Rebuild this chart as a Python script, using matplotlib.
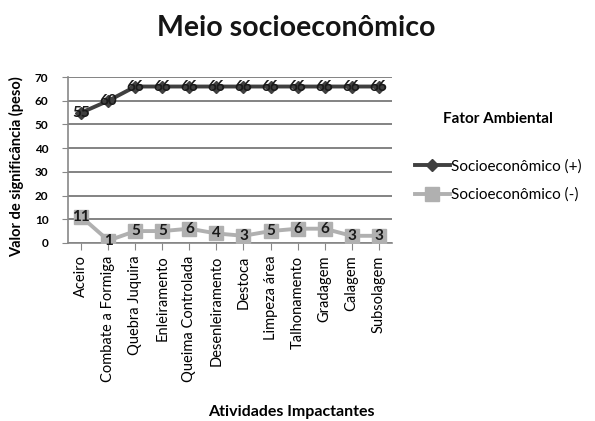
import matplotlib
matplotlib.use("Agg")
import matplotlib.pyplot as plt

categories = ["Aceiro", "Combate a Formiga", "Quebra Juquira", "Enleiramento",
              "Queima Controlada", "Desenleiramento", "Destoca", "Limpeza área",
              "Talhonamento", "Gradagem", "Calagem", "Subsolagem"]
positivo = [55, 60, 66, 66, 66, 66, 66, 66, 66, 66, 66, 66]
negativo = [11, 1, 5, 5, 6, 4, 3, 5, 6, 6, 3, 3]
y_ticks = [0, 10, 20, 30, 40, 50, 60, 70]

plt.rcParams['font.family'] = ['Lato', 'DejaVu Sans']

fig = plt.figure(figsize=(5.95, 4.21), dpi=100)
ax = fig.add_axes([0.114, 0.423, 0.545, 0.394])

x = list(range(len(categories)))
dark = "#404040"
light = "#b0b0b0"
ax.plot(x, positivo, color=dark, lw=2.8, marker="D", ms=6, zorder=3,
        label="Socioeconômico (+)")
ax.plot(x, negativo, color=light, lw=2.8, marker="s", ms=10, zorder=3,
        label="Socioeconômico (-)")

for xi, v in zip(x, positivo):
    ax.text(xi, v, str(v), ha="center", va="center", fontsize=11,
            fontweight="bold", color="#1a1a1a", zorder=4)
for xi, v in zip(x, negativo):
    ax.text(xi, v, str(v), ha="center", va="center", fontsize=11,
            fontweight="bold", color="#1a1a1a", zorder=4)

ax.set_xlim(-0.5, len(categories) - 0.5)
ax.set_ylim(0, 70)
ax.set_yticks(y_ticks)
ax.set_xticks(x)
ax.set_xticklabels(categories, rotation=90, fontsize=10.5)
ax.tick_params(axis="y", labelsize=8.5, length=4, pad=10, color="#888888")
for lbl in ax.get_yticklabels():
    lbl.set_fontweight("bold")
ax.tick_params(axis="x", length=5, pad=4, color="#888888")
ax.grid(axis="y", color="#6e6e6e", lw=1.2)
ax.set_axisbelow(True)
for s in ["top", "right"]:
    ax.spines[s].set_visible(False)
for s in ["left", "bottom"]:
    ax.spines[s].set_color("#888888")
    ax.spines[s].set_linewidth(1.2)

fig.text(0.498, 0.933, "Meio socioeconômico", ha="center", va="center",
         fontsize=20.5, fontweight="bold", color="#151515")
fig.text(0.028, 0.605, "Valor de significância (peso)", rotation=90,
         ha="center", va="center", fontsize=10.5, fontweight="bold")
fig.text(0.489, 0.022, "Atividades Impactantes", ha="center", va="center",
         fontsize=11.5, fontweight="bold")

leg = fig.legend(loc="upper left", bbox_to_anchor=(0.697, 0.735), frameon=False,
                 title="Fator Ambiental", fontsize=11, title_fontsize=11,
                 handlelength=2.3, handletextpad=0.1, labelspacing=0.95,
                 borderaxespad=0, borderpad=0)
leg.get_title().set_fontweight("bold")
leg._legend_box.sep = 24

fig.savefig("out.png", dpi=100)
